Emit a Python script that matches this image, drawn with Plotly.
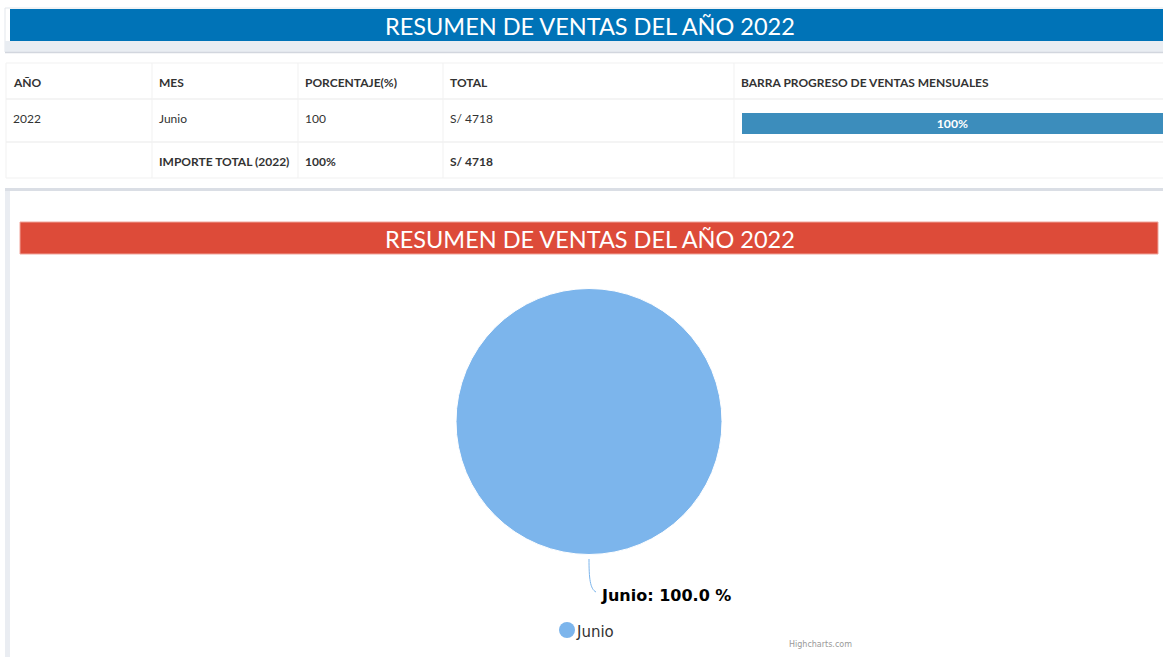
import plotly.graph_objects as go

# ---- data ----
anios = ["2022"]
meses = ["Junio"]
ventas = [4718]
encabezados = ["AÑO", "MES", "PORCENTAJE(%)", "TOTAL", "BARRA PROGRESO DE VENTAS MENSUALES"]
titulo = "RESUMEN DE VENTAS DEL AÑO 2022"

total = sum(ventas)
porcentajes = [v / total * 100 for v in ventas]

W, H = 1163, 657
FONT = "Lato"
BLUE = "#0073b7"
RED = "#dd4b39"
BAR = "#3c8dbc"
PIE = "#7cb5ec"
LINE = "#f1f1f1"

fig = go.Figure()

shapes = []
annotations = []

def rect(x0, y0, x1, y1, fill, line=None, lw=0):
    shapes.append(dict(type="rect", xref="x", yref="y", x0=x0, y0=y0, x1=x1, y1=y1,
                       fillcolor=fill, line=dict(color=line or fill, width=lw), layer="below"))

def hline(x0, x1, y, color, w=1):
    shapes.append(dict(type="line", xref="x", yref="y", x0=x0, x1=x1, y0=y, y1=y,
                       line=dict(color=color, width=w), layer="below"))

def vline(x, y0, y1, color, w=1):
    shapes.append(dict(type="line", xref="x", yref="y", x0=x, x1=x, y0=y0, y1=y1,
                       line=dict(color=color, width=w), layer="below"))

def text(x, y, s, size=12, color="#333333", bold=False, anchor="left", family=FONT):
    annotations.append(dict(x=x, y=y, xref="x", yref="y", text=f"<b>{s}</b>" if bold else s,
                            showarrow=False, xanchor=anchor, yanchor="middle",
                            font=dict(family=family, size=size, color=color)))

# ---- top header panel ----
rect(5, 8, W + 2, 52, "#ffffff", "#e3e7ec", 1)
rect(10, 9, W + 2, 41, BLUE)
rect(5, 41, W + 2, 52, "#e9edf2")
hline(5, W, 52.5, "#d2d6de", 1.5)
text(590, 26, titulo, size=23.5, color="white", anchor="center")

# ---- summary table ----
cols = [6, 152, 298, 443, 734, W + 2]
rows = [63, 99, 142, 178]
rect(6, 63, W + 2, 178, "#ffffff", LINE, 1)
for y in rows[1:-1]:
    hline(6, W, y, LINE, 1.5)
for x in cols[1:-1]:
    vline(x, 63, 178, LINE, 1)

for x, h in zip(cols, encabezados):
    text(x + 5, 82, h, size=12, bold=True)

for a, m, p, v in zip(anios, meses, porcentajes, ventas):
    text(cols[0] + 5, 118, a, size=12)
    text(cols[1] + 5, 118, m, size=12)
    text(cols[2] + 5, 118, f"{p:.0f}", size=12)
    text(cols[3] + 5, 118, f"S/ {v}", size=12)

text(cols[1] + 5, 161, f"IMPORTE TOTAL ({anios[0]})", size=12, bold=True)
text(cols[2] + 5, 161, f"{sum(porcentajes):.0f}%", size=12, bold=True)
text(cols[3] + 5, 161, f"S/ {total}", size=12, bold=True)

# ---- chart panel ----
rect(5, 188, W + 2, 191, "#dadee5")
rect(5, 191, 10, H + 2, "#eaedf2")
rect(20, 222, 1158, 254, RED, "#f0a49a", 1)
text(590, 239, titulo, size=23.5, color="white", anchor="center")

# pie connector + label
shapes.append(dict(type="path", xref="x", yref="y",
                   path="M 589 559 C 589 578, 590 589, 596 592",
                   line=dict(color=PIE, width=1)))
for m, p in zip(meses, porcentajes):
    text(599, 595, f"{m}: {p:.1f} %", size=16, color="#000000", bold=True, family="DejaVu Sans")

# legend item
fig.add_trace(go.Scatter(x=[567], y=[630], mode="markers", xaxis="x", yaxis="y",
                         marker=dict(size=16, color=PIE, line=dict(width=0)),
                         hoverinfo="skip", showlegend=False))
text(574, 632, meses[0], size=15, color="#333333", family="DejaVu Sans")
text(787, 644, "Highcharts.com", size=8, color="#999999", family="DejaVu Sans")

# pie
cx, cy, r = 589, 421.5, 133
fig.add_trace(go.Pie(labels=meses, values=ventas, sort=False, textinfo="none",
                     marker=dict(colors=[PIE], line=dict(color="white", width=1)),
                     showlegend=False,
                     domain=dict(x=[(cx - r) / W, (cx + r) / W],
                                 y=[1 - (cy + r) / H, 1 - (cy - r) / H])))

# progress bar
fig.add_trace(go.Bar(x=porcentajes, y=[0], orientation="h", xaxis="x2", yaxis="y2",
                     marker=dict(color=BAR, line=dict(width=0)), width=1,
                     text=[f"<b>{p:.0f}%</b>" for p in porcentajes],
                     textposition="inside", insidetextanchor="middle",
                     textfont=dict(family=FONT, size=13, color="white"),
                     showlegend=False, hoverinfo="skip"))

fig.update_layout(
    width=W, height=H,
    margin=dict(l=0, r=0, t=0, b=0),
    paper_bgcolor="white", plot_bgcolor="rgba(0,0,0,0)",
    xaxis=dict(range=[0, W], visible=False, domain=[0, 1], fixedrange=True),
    yaxis=dict(range=[H, 0], visible=False, domain=[0, 1], fixedrange=True),
    xaxis2=dict(range=[0, 100], visible=False, domain=[742 / W, 1], anchor="y2"),
    yaxis2=dict(range=[-0.5, 0.5], visible=False, domain=[1 - 134 / H, 1 - 113 / H], anchor="x2"),
    shapes=shapes,
    annotations=annotations,
    showlegend=False,
)

fig.write_html("out.html")
